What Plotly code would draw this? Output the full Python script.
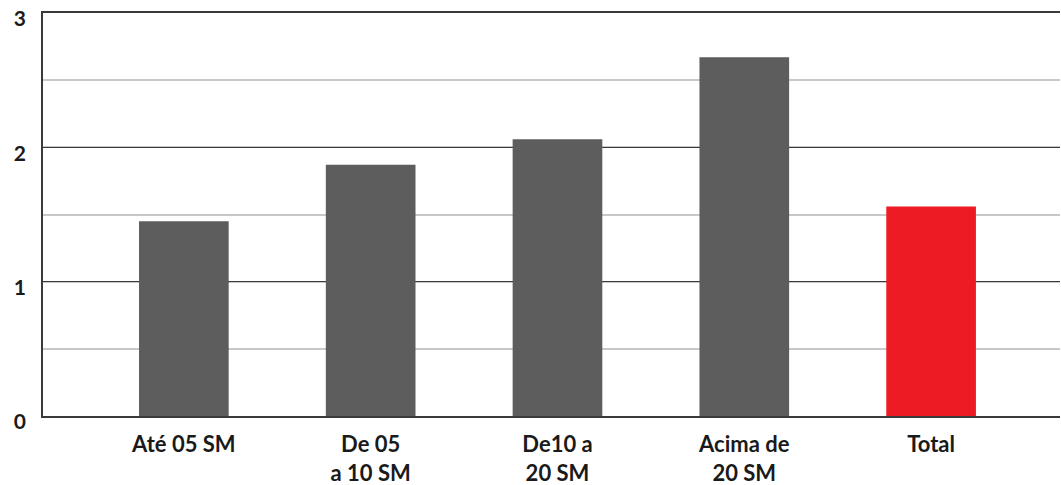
import plotly.graph_objects as go

categories = ["Até 05 SM", "De 05<br>a 10 SM", "De10 a<br>20 SM", "Acima de<br>20 SM", "Total"]
values = [1.45, 1.87, 2.06, 2.67, 1.56]
bar_colors = ["#5d5d5d", "#5d5d5d", "#5d5d5d", "#5d5d5d", "#ed1c24"]
y_ticks = [0, 1, 2, 3]

fig = go.Figure(
    go.Bar(
        x=list(range(len(categories))),
        y=values,
        marker=dict(color=bar_colors, line=dict(width=0)),
        width=0.48,
    )
)

fig.update_layout(
    width=1061,
    height=485,
    margin=dict(l=43, r=1, t=13, b=69),
    paper_bgcolor="white",
    plot_bgcolor="white",
    showlegend=False,
    font=dict(family="Lato", color="#1a1a1a"),
)

# bottom axis line, mirrored along the top edge of the plot
fig.update_xaxes(
    range=[-0.754, 4.69],
    tickmode="array",
    tickvals=list(range(len(categories))),
    ticktext=categories,
    tickfont=dict(family="Lato", size=22, weight="bold"),
    ticks="",
    ticklabelstandoff=8,
    showgrid=False,
    showline=True,
    mirror=True,
    linecolor="#3a3a3a",
    linewidth=1.8,
    zeroline=False,
    automargin=False,
)

fig.update_yaxes(
    range=[0, 3],
    tickmode="array",
    tickvals=y_ticks,
    ticktext=[str(v) for v in y_ticks],
    tickfont=dict(family="Lato", size=21, weight="bold"),
    ticks="",
    ticklabelstandoff=11,
    ticklabelshift=6,
    showgrid=True,
    gridcolor="#3a3a3a",
    gridwidth=1.2,
    minor=dict(dtick=0.5, showgrid=True, gridcolor="#c8c8c8", gridwidth=1.5),
    showline=True,
    linecolor="#3a3a3a",
    linewidth=1.5,
    zeroline=False,
    automargin=False,
)

fig.write_html("out.html")
